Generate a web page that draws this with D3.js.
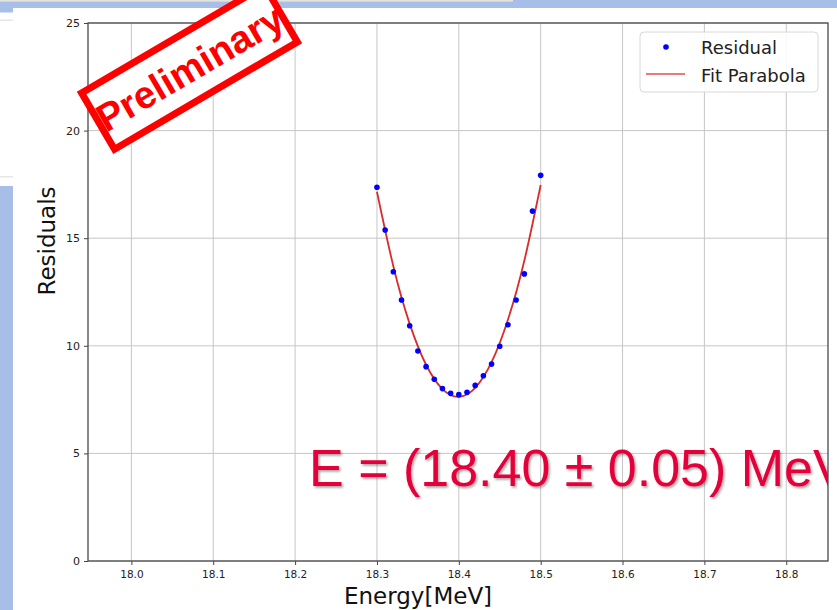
<!DOCTYPE html>
<html>
<head>
<meta charset="utf-8">
<script src="https://cdn.jsdelivr.net/npm/d3@7/dist/d3.min.js"></script>
<style>
  html, body { margin: 0; padding: 0; background: #ffffff; }
  svg { display: block; }
</style>
</head>
<body>
<svg id="chart" width="837" height="610"></svg>
<script>
// Measured residuals of the energy scan
const energy = [18.30, 18.31, 18.32, 18.33, 18.34, 18.35, 18.36, 18.37, 18.38, 18.39, 18.40,
                18.41, 18.42, 18.43, 18.44, 18.45, 18.46, 18.47, 18.48, 18.49, 18.50];
const residual = [17.37, 15.38, 13.44, 12.13, 10.93, 9.76, 9.03, 8.44, 8.01, 7.79, 7.73,
                  7.84, 8.16, 8.61, 9.15, 9.98, 10.98, 12.13, 13.34, 16.26, 17.92];

// Fitted parabola, sampled along the scan
const fitEnergy = [18.30, 18.32, 18.34, 18.36, 18.38, 18.40, 18.42, 18.44, 18.46, 18.48, 18.50];
const fitValue  = [17.16, 13.70, 11.02, 9.12, 7.99, 7.63, 8.05, 9.24, 11.21, 13.95, 17.47];

// Axis ticks
const xTicks = [18.0, 18.1, 18.2, 18.3, 18.4, 18.5, 18.6, 18.7, 18.8];
const yTicks = [0, 5, 10, 15, 20, 25];

const legendLabels = ["Residual", "Fit Parabola"];
const resultText = "E = (18.40 \u00B1 0.05) MeV";
const stampText = "Preliminary";

const svg = d3.select("#chart");

// Slide background pieces
svg.append("rect").attr("x", 0).attr("y", 0).attr("width", 837).attr("height", 8).attr("fill", "#a7bfe8");
svg.append("rect").attr("x", 0).attr("y", 0).attr("width", 513).attr("height", 1.6).attr("fill", "#e4e4dc");
svg.append("rect").attr("x", 0).attr("y", 8).attr("width", 13).attr("height", 4.5).attr("fill", "#a7bfe8");
svg.append("rect").attr("x", 0).attr("y", 19.5).attr("width", 13).attr("height", 1.5).attr("fill", "#e6e6e6");
svg.append("rect").attr("x", 0).attr("y", 176).attr("width", 13).attr("height", 1.5).attr("fill", "#e6e6e6");
svg.append("rect").attr("x", 0).attr("y", 186).attr("width", 13).attr("height", 424).attr("fill", "#a7bfe8");

// Plot frame geometry
const plotLeft = 88, plotRight = 828, plotTop = 23, plotBottom = 561;

const x = d3.scaleLinear().domain([17.947, 18.851]).range([plotLeft, plotRight]);
const y = d3.scaleLinear().domain([0, 25]).range([plotBottom, plotTop]);

const defs = svg.append("defs");
defs.append("clipPath").attr("id", "plotClip")
  .append("rect").attr("x", plotLeft).attr("y", plotTop)
  .attr("width", plotRight - plotLeft).attr("height", plotBottom - plotTop);
defs.append("clipPath").attr("id", "textClip")
  .append("rect").attr("x", 0).attr("y", 0).attr("width", plotRight).attr("height", 610);
const shadow = defs.append("filter").attr("id", "softShadow")
  .attr("x", "-5%").attr("y", "-20%").attr("width", "110%").attr("height", "140%");
shadow.append("feDropShadow").attr("dx", 1.5).attr("dy", 1.8).attr("stdDeviation", 1.1)
  .attr("flood-color", "#000").attr("flood-opacity", 0.35);

// Grid
const grid = svg.append("g");
grid.selectAll("line.vx").data(xTicks).join("line")
  .attr("x1", d => x(d)).attr("x2", d => x(d)).attr("y1", plotTop).attr("y2", plotBottom)
  .attr("stroke", "#c6c6c6").attr("stroke-width", 1);
grid.selectAll("line.hy").data(yTicks).join("line")
  .attr("x1", plotLeft).attr("x2", plotRight).attr("y1", d => y(d)).attr("y2", d => y(d))
  .attr("stroke", "#c6c6c6").attr("stroke-width", 1);

// Axes
const xAxis = svg.append("g").attr("transform", `translate(0,${plotBottom})`)
  .call(d3.axisBottom(x).tickValues(xTicks).tickFormat(d3.format(".1f")).tickSize(4).tickPadding(6));
const yAxis = svg.append("g").attr("transform", `translate(${plotLeft},0)`)
  .call(d3.axisLeft(y).tickValues(yTicks).tickFormat(d3.format("d")).tickSize(4).tickPadding(4));
[xAxis, yAxis].forEach(g => {
  g.select(".domain").remove();
  g.selectAll(".tick line").attr("stroke", "#444").attr("stroke-width", 1);
  g.selectAll(".tick text").attr("fill", "#222").attr("font-family", "DejaVu Sans");
});
xAxis.selectAll(".tick text").attr("font-size", 10.5);
yAxis.selectAll(".tick text").attr("font-size", 11);

// Frame
svg.append("rect").attr("x", plotLeft).attr("y", plotTop)
  .attr("width", plotRight - plotLeft).attr("height", plotBottom - plotTop)
  .attr("fill", "none").attr("stroke", "#4a4a4a").attr("stroke-width", 1.3);

// Axis titles
svg.append("text").attr("x", 418).attr("y", 604).attr("text-anchor", "middle")
  .attr("font-family", "DejaVu Sans").attr("font-size", 23).attr("fill", "#111").text("Energy[MeV]");
svg.append("text").attr("transform", "translate(55,241) rotate(-90)").attr("text-anchor", "middle")
  .attr("font-family", "DejaVu Sans").attr("font-size", 23).attr("fill", "#111").text("Residuals");

// Data
const plot = svg.append("g").attr("clip-path", "url(#plotClip)");
const fitLine = d3.line().x(d => x(d[0])).y(d => y(d[1])).curve(d3.curveNatural);
plot.append("path").datum(d3.zip(fitEnergy, fitValue)).attr("d", fitLine)
  .attr("fill", "none").attr("stroke", "#d92b2b").attr("stroke-width", 1.8);
plot.selectAll("circle").data(d3.zip(energy, residual)).join("circle")
  .attr("cx", d => x(d[0])).attr("cy", d => y(d[1])).attr("r", 2.8).attr("fill", "#0000ff");

// Legend
const lg = svg.append("g");
lg.append("rect").attr("x", 640).attr("y", 32).attr("width", 178).attr("height", 60).attr("rx", 4)
  .attr("fill", "#ffffff").attr("fill-opacity", 0.85).attr("stroke", "#d8d8d8").attr("stroke-width", 1);
lg.append("circle").attr("cx", 666).attr("cy", 47).attr("r", 2.8).attr("fill", "#0000ff");
lg.append("line").attr("x1", 646).attr("x2", 685).attr("y1", 74).attr("y2", 74)
  .attr("stroke", "#e05050").attr("stroke-width", 1.6);
lg.selectAll("text").data(legendLabels).join("text")
  .attr("x", 701).attr("y", (d, i) => 54 + i * 27.5)
  .attr("font-family", "DejaVu Sans").attr("font-size", 18).attr("fill", "#222").text(d => d);

// Fit result
svg.append("g").attr("clip-path", "url(#textClip)")
  .append("text").attr("x", 309).attr("y", 486)
  .attr("font-family", "Liberation Sans, Arial, sans-serif").attr("font-size", 52)
  .attr("fill", "#e3003b").attr("filter", "url(#softShadow)").text(resultText);

// Preliminary stamp
const stamp = svg.append("g").attr("transform", "translate(189.5,67.5) rotate(-30.4)");
stamp.append("rect").attr("x", -106).attr("y", -32.5).attr("width", 212).attr("height", 65)
  .attr("fill", "#ffffff").attr("stroke", "#ff0000").attr("stroke-width", 7);
stamp.append("text").attr("x", 0).attr("y", 14).attr("text-anchor", "middle")
  .attr("font-family", "Liberation Sans, Arial, sans-serif").attr("font-weight", "bold")
  .attr("font-size", 38.5).attr("fill", "#ff0000").text(stampText);
</script>
</body>
</html>
